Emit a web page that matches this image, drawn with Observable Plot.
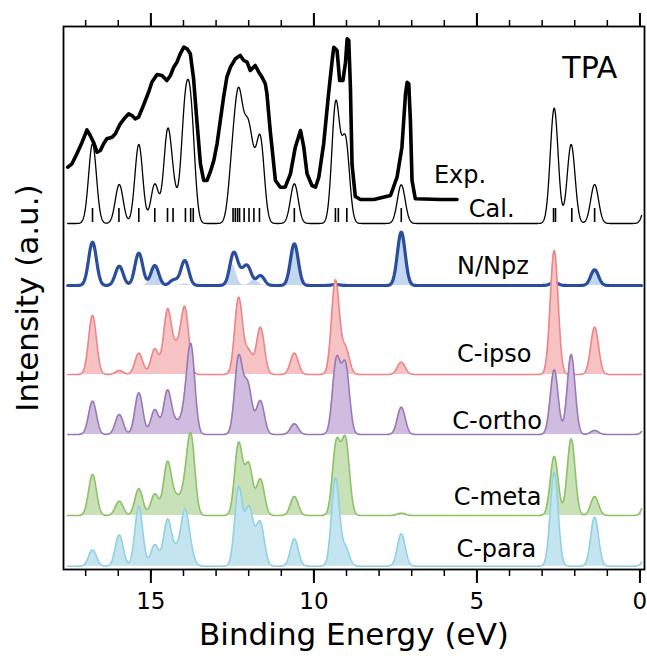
<!DOCTYPE html>
<html>
<head>
<meta charset="utf-8">
<script src="https://cdn.jsdelivr.net/npm/d3@7"></script>
<script src="https://cdn.jsdelivr.net/npm/@observablehq/plot@0.6"></script>
<style>
  html, body { margin: 0; padding: 0; background: #fff; }
  #chart svg { display: block; }
</style>
</head>
<body>
<div id="chart"></div>
<script>
// TPA valence photoemission: experiment, total calculation and site-resolved contributions.
// Calculated spectra are given as peak lists [binding energy (eV), peak intensity (a.u.)].

const calPeaks = [
  [16.79, 7.97], [15.97, 3.90], [15.37, 7.90], [14.88, 3.97], [14.49, 9.47], [14.30, 5.2],
  [13.96, 12.7], [13.77, 12.7], [12.50, 8.5], [12.31, 13.63], [12.14, 11.2], [12.00, 10.3],
  [11.85, 7.8], [11.64, 8.8], [10.60, 3.97], [9.33, 12.3], [9.03, 8.8], [7.32, 3.87],
  [2.63, 11.53], [2.11, 7.9], [1.39, 3.9], [-0.25, 3.2]
];
const nNpzPeaks = [
  [16.79, 4.33], [15.97, 1.93], [15.37, 3.23], [14.88, 2.0], [14.30, 0.6], [13.96, 2.5],
  [12.46, 3.33], [12.22, 1.8], [12.03, 2.0], [11.64, 1.0], [10.60, 4.17], [9.33, 0.1],
  [7.32, 5.33], [2.63, 0.3], [1.39, 1.57]
];
const nPeaks = [
  [14.88, 1.9], [13.96, 0.15], [12.51, 2.17], [11.83, 0.57], [10.60, 4.17], [7.32, 5.33], [1.39, 1.57]
];
const ipsoPeaks = [
  [16.79, 5.9], [15.97, 0.4], [15.37, 2.13], [14.88, 2.57], [14.49, 6.57], [14.22, 3.47],
  [13.96, 6.8], [12.31, 7.73], [12.00, 2.57], [11.64, 4.73], [10.60, 2.13], [9.34, 9.47],
  [9.03, 2.9], [7.32, 1.23], [2.63, 12.4], [1.39, 4.73]
];
const orthoPeaks = [
  [16.79, 3.33], [15.97, 2.0], [15.37, 4.17], [14.88, 2.5], [14.49, 4.47], [14.22, 1.57],
  [13.96, 4.5], [13.77, 9.07], [12.31, 7.97], [12.03, 5.4], [11.85, 2.57], [11.64, 3.4],
  [10.60, 1.07], [9.31, 7.8], [9.03, 7.3], [7.32, 2.73], [2.63, 6.47], [2.11, 8.0],
  [1.39, 0.4], [-0.25, 1.2]
];
const metaPeaks = [
  [16.79, 4.1], [15.97, 1.43], [15.37, 2.67], [14.88, 2.17], [14.49, 5.43], [14.22, 2.23],
  [13.96, 4.5], [13.77, 8.23], [12.31, 7.33], [12.00, 5.33], [11.64, 3.67], [10.60, 1.9],
  [9.31, 7.67], [9.03, 7.9], [7.32, 0.23], [2.63, 5.9], [2.11, 7.67], [1.39, 1.9], [-0.25, 2.7]
];
const paraPeaks = [
  [16.79, 1.63], [15.97, 3.13], [15.37, 5.97], [14.88, 2.17], [14.49, 4.73], [14.22, 2.3],
  [13.96, 5.73], [13.78, 2.8], [12.31, 7.97], [12.00, 6.07], [11.85, 4.4], [11.64, 4.5],
  [10.60, 2.73], [9.34, 8.83], [9.03, 2.07], [7.32, 3.23], [2.63, 9.4], [1.39, 4.9], [-0.25, 1.6]
];

// Calculated transition energies (eV), drawn as sticks under the total spectrum
const stickEnergies = [
  16.79, 15.98, 15.37, 14.88, 14.49, 14.32, 13.94, 13.78, 13.70, 12.48, 12.41, 12.34, 12.28,
  12.14, 11.99, 11.84, 11.67, 10.60, 9.34, 9.25, 8.99, 7.32, 2.65, 2.59, 2.09, 1.39
];

// Measured spectrum [binding energy (eV), intensity (a.u.)]
const expSpectrum = [
  [17.55, 3.23], [17.42, 3.57], [17.27, 4.57], [17.11, 5.73], [16.96, 6.97], [16.86, 6.40],
  [16.76, 5.73], [16.65, 4.73], [16.55, 4.90], [16.45, 5.57], [16.35, 6.07], [16.19, 6.23],
  [16.09, 6.57], [15.94, 7.57], [15.78, 8.23], [15.68, 8.57], [15.58, 8.40], [15.48, 8.07],
  [15.38, 8.23], [15.27, 9.07], [15.17, 9.90], [15.07, 10.73], [14.97, 11.73], [14.81, 12.50],
  [14.66, 12.40], [14.51, 11.90], [14.40, 12.40], [14.30, 13.23], [14.20, 13.73], [14.10, 14.57],
  [13.99, 15.23], [13.89, 15.07], [13.79, 14.57], [13.69, 12.07], [13.59, 7.90], [13.48, 3.57],
  [13.38, 1.90], [13.28, 1.90], [13.18, 2.73], [13.07, 3.90], [12.97, 5.57], [12.87, 7.90],
  [12.77, 10.23], [12.67, 12.23], [12.56, 13.23], [12.41, 14.07], [12.26, 14.40], [12.15, 13.90],
  [12.05, 13.73], [11.95, 12.90], [11.80, 13.40], [11.69, 12.73], [11.59, 12.23], [11.49, 11.57],
  [11.44, 10.57], [11.34, 6.90], [11.18, 1.90], [11.03, 1.23], [10.88, 1.23], [10.72, 2.57],
  [10.57, 5.23], [10.41, 6.90], [10.31, 5.23], [10.21, 2.57], [10.06, 1.40], [9.95, 1.23],
  [9.85, 2.23], [9.70, 5.57], [9.55, 10.57], [9.44, 13.90], [9.39, 15.23], [9.29, 14.90],
  [9.21, 11.90], [9.11, 11.90], [9.03, 13.73], [8.98, 16.07], [8.93, 15.90], [8.88, 11.23],
  [8.83, 3.5], [8.73, 0.3], [8.57, 0], [8.16, 0], [7.65, 0.4], [7.45, 2.23], [7.30, 5.23],
  [7.19, 10.57], [7.14, 11.73], [7.09, 11.57], [7.04, 7.90], [6.99, 1.90], [6.89, 0.07],
  [6.12, 0], [5.61, 0]
];

// ---- Gaussian broadening of the peak lists ----
const SIGMA = 0.12; // eV  (FWHM ≈ 0.28 eV)
const gauss = d => Math.exp(-d * d / (2 * SIGMA * SIGMA));
const grid = d3.range(17.55, -0.055, -0.01);

// Amplitudes whose broadened sum reproduces each listed peak intensity (non-negative).
function amplitudes(peaks) {
  const amp = peaks.map(p => p[1]);
  for (let it = 0; it < 400; it++) {
    for (let i = 0; i < peaks.length; i++) {
      let r = peaks[i][1];
      for (let j = 0; j < peaks.length; j++) {
        if (j !== i) r -= gauss(peaks[i][0] - peaks[j][0]) * amp[j];
      }
      amp[i] = Math.max(0, r);
    }
  }
  return amp;
}
function spectrum(peaks, offset) {
  const amp = amplitudes(peaks);
  return grid.map(e => ({
    energy: e,
    base: offset,
    value: offset + d3.sum(peaks, (p, j) => amp[j] * gauss(e - p[0]))
  }));
}

// ---- vertical stacking (a.u.) ----
const offset = { exp: 37.0, cal: 34.6, n: 28.4, ipso: 19.5, ortho: 13.5, meta: 5.4, para: 0.33 };

const expData = expSpectrum.map(([energy, v]) => ({ energy, value: offset.exp + v }));
const calData = spectrum(calPeaks, offset.cal);
const nNpzData = spectrum(nNpzPeaks, offset.n);
const nData = spectrum(nPeaks, offset.n);
const ipsoData = spectrum(ipsoPeaks, offset.ipso);
const orthoData = spectrum(orthoPeaks, offset.ortho);
const metaData = spectrum(metaPeaks, offset.meta);
const paraData = spectrum(paraPeaks, offset.para);

const components = [
  { data: ipsoData, line: "#ef8486", fill: "#f6c2c4" },
  { data: orthoData, line: "#9878b6", fill: "#d0bcdf" },
  { data: metaData, line: "#8dc166", fill: "#c8e1b6" },
  { data: paraData, line: "#91d1e2", fill: "#c4e5ef" }
];

const labels = [
  { text: "Exp.", x: 6.32, y: 39.45 },
  { text: "Cal.", x: 5.25, y: 36.0 },
  { text: "N/Npz", x: 5.61, y: 30.35 },
  { text: "C-ipso", x: 5.61, y: 21.5 },
  { text: "C-ortho", x: 5.76, y: 14.8 },
  { text: "C-meta", x: 5.71, y: 7.2 },
  { text: "C-para", x: 5.63, y: 2.0 }
];

const font = "DejaVu Sans";

const chart = Plot.plot({
  width: 647,
  height: 658,
  marginLeft: 63,
  marginRight: 3,
  marginTop: 26,
  marginBottom: 89,
  style: { fontFamily: font, background: "#fff", color: "#000" },
  x: { domain: [17.68, -0.14] },
  y: { domain: [0, 54.3], axis: null },
  marks: [
    Plot.lineY(expData, { x: "energy", y: "value", stroke: "#000", strokeWidth: 3.6, strokeLinejoin: "round" }),
    Plot.lineY(calData, { x: "energy", y: "value", stroke: "#000", strokeWidth: 1.3 }),
    Plot.ruleX(stickEnergies, { x: d => d, y1: offset.cal + 0.1, y2: offset.cal + 1.5, stroke: "#000", strokeWidth: 1.6 }),

    Plot.areaY(nData, { x: "energy", y1: "base", y2: "value", fill: "#c3d8f0" }),
    Plot.lineY(nNpzData, { x: "energy", y: "value", stroke: "#2a4d9e", strokeWidth: 3.2 }),

    ...components.flatMap(c => [
      Plot.areaY(c.data, { x: "energy", y1: "base", y2: "value", fill: c.fill }),
      Plot.lineY(c.data, { x: "energy", y: "value", stroke: c.line, strokeWidth: 1.6 })
    ]),

    Plot.text(labels, { x: "x", y: "y", text: "text", textAnchor: "start", fontSize: 24, fill: "#000" }),
    Plot.text(["TPA"], { x: 2.38, y: 50.15, textAnchor: "start", fontSize: 30, fill: "#000" }),

    Plot.axisX({ anchor: "bottom", ticks: d3.range(0, 18), tickSize: 7, tickFormat: () => "", strokeWidth: 1.5, label: null }),
    Plot.axisX({ anchor: "bottom", ticks: [0, 5, 10, 15], tickSize: 14, tickPadding: 9, fontSize: 23, strokeWidth: 2, label: null }),
    Plot.axisX({ anchor: "top", ticks: d3.range(0, 18), tickSize: 7, tickFormat: () => "", strokeWidth: 1.5, label: null }),
    Plot.axisX({ anchor: "top", ticks: [0, 5, 10, 15], tickSize: 14, tickFormat: () => "", strokeWidth: 2, label: null }),
    Plot.frame({ stroke: "#000", strokeWidth: 1.8 }),

    Plot.text(["Binding Energy (eV)"], { frameAnchor: "bottom", dy: 75, fontSize: 31, fill: "#000" }),
    Plot.text(["Intensity (a.u.)"], { frameAnchor: "left", textAnchor: "middle", dx: -35, rotate: -90, fontSize: 31, fill: "#000" })
  ]
});

document.getElementById("chart").appendChild(chart);
</script>
</body>
</html>
